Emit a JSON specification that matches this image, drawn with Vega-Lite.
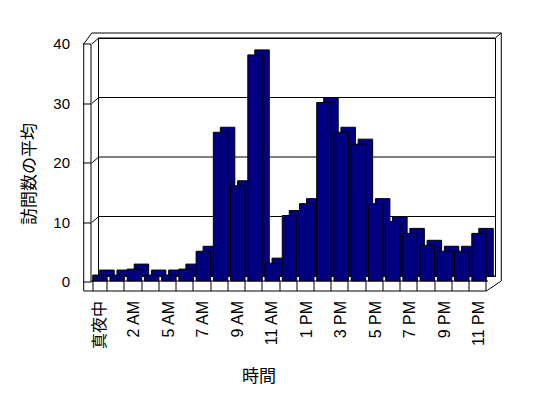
{
  "$schema": "https://vega.github.io/schema/vega-lite/v6.json",
  "width": 397,
  "height": 238,
  "autosize": {"type": "none"},
  "padding": {"left": 98, "top": 38, "right": 53, "bottom": 122},
  "background": "white",
  "config": {
    "view": {"stroke": "black", "strokeWidth": 1, "fill": "white"},
    "font": "Liberation Sans, Noto Sans CJK JP",
    "rule": {"color": "black", "strokeWidth": 1},
    "axisY": {
      "offset": 13, "translate": 6, "grid": false, "tickCount": 4,
      "domain": true, "domainColor": "black", "ticks": true, "tickColor": "black", "tickSize": 8,
      "labelPadding": 13,
      "labelFontSize": 15, "labelColor": "black",
      "titleFontSize": 17, "titleFontWeight": "normal", "titleColor": "black", "titlePadding": 14
    },
    "axisX": {
      "orient": "bottom", "offset": 12, "translate": -7,
      "tickBand": "extent", "domainColor": "black", "tickColor": "black", "tickSize": 10,
      "labelAngle": 270, "labelAlign": "right", "labelBaseline": "middle", "labelPadding": 10,
      "labelFontSize": 16, "labelColor": "black", "labelOverlap": false, "labelLimit": 200,
      "labelExpr": "indexof(['真夜中','2 AM','5 AM','7 AM','9 AM','11 AM','1 PM','3 PM','5 PM','7 PM','9 PM','11 PM'], datum.value) >= 0 ? datum.value : ''",
      "titleFontSize": 17, "titleFontWeight": "normal", "titleColor": "black", "titlePadding": 20,
      "titleX": 168
    }
  },
  "datasets": {
    "visits": [
      {"hour": "真夜中", "visits": 1},
      {"hour": "1 AM", "visits": 1},
      {"hour": "2 AM", "visits": 2},
      {"hour": "3 AM", "visits": 1},
      {"hour": "5 AM", "visits": 1},
      {"hour": "6 AM", "visits": 2},
      {"hour": "7 AM", "visits": 5},
      {"hour": "8 AM", "visits": 25},
      {"hour": "9 AM", "visits": 16},
      {"hour": "10 AM", "visits": 38},
      {"hour": "11 AM", "visits": 3},
      {"hour": "12 PM", "visits": 11},
      {"hour": "1 PM", "visits": 13},
      {"hour": "2 PM", "visits": 30},
      {"hour": "3 PM", "visits": 25},
      {"hour": "4 PM", "visits": 23},
      {"hour": "5 PM", "visits": 13},
      {"hour": "6 PM", "visits": 10},
      {"hour": "7 PM", "visits": 8},
      {"hour": "8 PM", "visits": 6},
      {"hour": "9 PM", "visits": 5},
      {"hour": "10 PM", "visits": 5},
      {"hour": "11 PM", "visits": 8}
    ],
    "grid": [{"v": 0}, {"v": 10}, {"v": 20}, {"v": 30}, {"v": 40}],
    "wall": [{"first": "真夜中", "last": "11 PM", "bottom": 0, "top": 40}]
  },
  "layer": [
    {
      "data": {"name": "grid"},
      "mark": {"type": "rule"},
      "encoding": {
        "y": {"field": "v", "type": "quantitative", "scale": {"domain": [0, 40], "nice": false}, "title": "訪問数の平均", "axis": {"titleY": 130}}
      }
    },
    {
      "data": {"name": "grid"},
      "mark": {"type": "rule", "xOffset": -8, "x2Offset": -1, "yOffset": 6},
      "encoding": {
        "x": {"datum": "真夜中", "type": "ordinal", "bandPosition": 0, "title": "時間"},
        "x2": {"datum": "真夜中", "bandPosition": 0},
        "y": {"field": "v", "type": "quantitative", "title": "訪問数の平均", "axis": {"titleY": 130}},
        "y2": {"field": "v"}
      }
    },
    {
      "data": {"name": "wall"},
      "mark": {"type": "rule", "xOffset": -16, "yOffset": 15, "y2Offset": 6},
      "encoding": {
        "x": {"field": "first", "type": "ordinal", "bandPosition": 0, "title": "時間"},
        "y": {"field": "bottom", "type": "quantitative", "title": "訪問数の平均", "axis": {"titleY": 130}},
        "y2": {"field": "top"}
      }
    },
    {
      "data": {"name": "wall"},
      "mark": {"type": "rule", "xOffset": -16, "x2Offset": -7, "yOffset": 15},
      "encoding": {
        "x": {"field": "first", "type": "ordinal", "bandPosition": 0, "title": "時間"},
        "x2": {"field": "last", "bandPosition": 1},
        "y": {"field": "bottom", "type": "quantitative", "title": "訪問数の平均", "axis": {"titleY": 130}}
      }
    },
    {
      "data": {"name": "wall"},
      "mark": {"type": "rule", "xOffset": -7, "x2Offset": 8, "yOffset": 15, "y2Offset": 5},
      "encoding": {
        "x": {"field": "last", "type": "ordinal", "bandPosition": 1, "title": "時間"},
        "x2": {"field": "last", "bandPosition": 1},
        "y": {"field": "bottom", "type": "quantitative", "title": "訪問数の平均", "axis": {"titleY": 130}},
        "y2": {"field": "bottom"}
      }
    },
    {
      "data": {"name": "wall"},
      "mark": {"type": "rule", "xOffset": 8, "yOffset": 5, "y2Offset": -5},
      "encoding": {
        "x": {"field": "last", "type": "ordinal", "bandPosition": 1, "title": "時間"},
        "y": {"field": "bottom", "type": "quantitative", "title": "訪問数の平均", "axis": {"titleY": 130}},
        "y2": {"field": "top"}
      }
    },
    {
      "data": {"name": "wall"},
      "mark": {"type": "rule", "xOffset": -8, "x2Offset": 8, "yOffset": -5},
      "encoding": {
        "x": {"field": "first", "type": "ordinal", "bandPosition": 0, "title": "時間"},
        "x2": {"field": "last", "bandPosition": 1},
        "y": {"field": "top", "type": "quantitative", "title": "訪問数の平均", "axis": {"titleY": 130}}
      }
    },
    {
      "data": {"name": "wall"},
      "mark": {"type": "rule", "xOffset": 2, "x2Offset": 8, "y2Offset": -5},
      "encoding": {
        "x": {"field": "last", "type": "ordinal", "bandPosition": 1, "title": "時間"},
        "x2": {"field": "last", "bandPosition": 1},
        "y": {"field": "top", "type": "quantitative", "title": "訪問数の平均", "axis": {"titleY": 130}},
        "y2": {"field": "top"}
      }
    },
    {
      "data": {"name": "wall"},
      "mark": {"type": "rule", "xOffset": -16, "x2Offset": -8, "yOffset": 6, "y2Offset": -5},
      "encoding": {
        "x": {"field": "first", "type": "ordinal", "bandPosition": 0, "title": "時間"},
        "x2": {"field": "first", "bandPosition": 0},
        "y": {"field": "top", "type": "quantitative", "title": "訪問数の平均", "axis": {"titleY": 130}},
        "y2": {"field": "top"}
      }
    },
    {
      "data": {"name": "visits"},
      "mark": {"type": "bar", "fill": "#000080", "stroke": "black", "strokeWidth": 1},
      "encoding": {
        "x": {
          "field": "hour", "type": "ordinal", "title": "時間",
          "scale": {
            "domain": ["真夜中", "1 AM", "2 AM", "3 AM", "5 AM", "6 AM", "7 AM", "8 AM", "9 AM", "10 AM", "11 AM", "12 PM", "1 PM", "2 PM", "3 PM", "4 PM", "5 PM", "6 PM", "7 PM", "8 PM", "9 PM", "10 PM", "11 PM"],
            "paddingInner": 0.16, "paddingOuter": 0.1
          }
        },
        "y": {"field": "visits", "type": "quantitative", "title": "訪問数の平均", "axis": {"titleY": 130}}
      }
    },
    {
      "data": {"name": "visits"},
      "mark": {"type": "bar", "fill": "#000080", "stroke": "black", "strokeWidth": 1, "xOffset": -7, "yOffset": 5, "y2Offset": 5},
      "encoding": {
        "x": {"field": "hour", "type": "ordinal", "title": "時間"},
        "y": {"field": "visits", "type": "quantitative", "title": "訪問数の平均", "axis": {"titleY": 130}}
      }
    }
  ]
}
